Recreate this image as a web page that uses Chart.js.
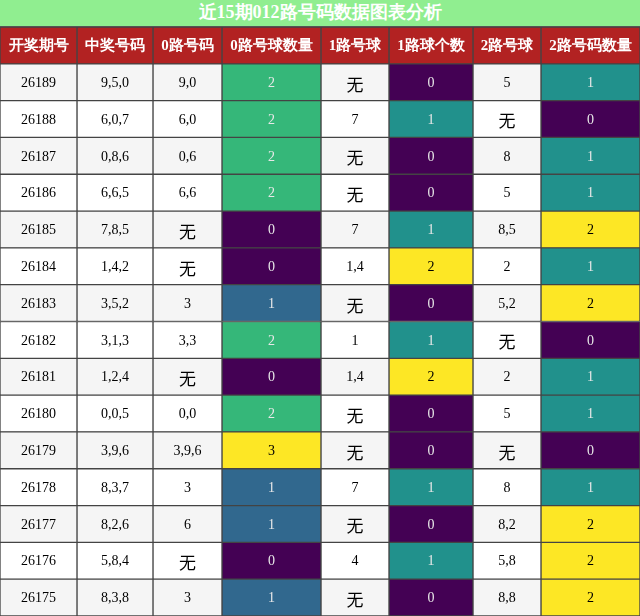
<!DOCTYPE html>
<html><head><meta charset="utf-8">
<script src="https://cdn.jsdelivr.net/npm/chart.js@4/dist/chart.umd.min.js"></script>
<style>
body{margin:0;background:#fff;}
#title{height:26px;line-height:26px;background:#90ee90;color:#fff;text-align:center;font:bold 18px "Liberation Serif","DejaVu Serif",serif;border-bottom:1px solid #555;width:640px;}
#wrap{width:640px;height:589px;}
</style></head><body>
<div id="title">近15期012路号码数据图表分析</div>
<div id="wrap"><canvas id="c"></canvas></div>
<script>
const headers=["开奖期号","中奖号码","0路号码","0路号球数量","1路号球","1路球个数","2路号球","2路号码数量"];
const periods=["26189","26188","26187","26186","26185","26184","26183","26182","26181","26180","26179","26178","26177","26176","26175"];
const draws=["9,5,0","6,0,7","0,8,6","6,6,5","7,8,5","1,4,2","3,5,2","3,1,3","1,2,4","0,0,5","3,9,6","8,3,7","8,2,6","5,8,4","8,3,8"];
const route0=["9,0","6,0","0,6","6,6","无","无","3","3,3","无","0,0","3,9,6","3","6","无","3"];
const count0=[2,2,2,2,0,0,1,2,0,2,3,1,1,0,1];
const route1=["无","7","无","无","7","1,4","无","1","1,4","无","无","7","无","4","无"];
const count1=[0,1,0,0,1,2,0,1,2,0,0,1,0,1,0];
const route2=["5","无","8","5","8,5","2","5,2","无","2","5","无","8","8,2","5,8","8,8"];
const count2=[1,0,1,1,2,1,2,0,1,1,0,1,2,2,2];

const colEdges=[0,77,153,222,321,389,473,541,640];
const columns=[periods,draws,route0,count0,route1,count1,route2,count2];
const isCount=[false,false,false,true,false,true,false,true];
const rowsLabels=['h',...periods];
function heat(v,max){
  if(max===3) return ['#440154','#31688e','#35b779','#fde725'][v];
  return ['#440154','#21918c','#fde725'][v];
}
const datasets=columns.map((col,ci)=>{
  const max=Math.max(...(isCount[ci]?col:[0]));
  return {
    data:rowsLabels.map(()=>[colEdges[ci],colEdges[ci+1]]),
    texts:[headers[ci],...col.map(String)],
    backgroundColor:rowsLabels.map((r,ri)=>{
      if(ri===0) return '#b22222';
      if(isCount[ci]) return heat(col[ri-1],max);
      return ri%2===1?'#f5f5f5':'#ffffff';
    }),
    textColors:rowsLabels.map((r,ri)=>{
      if(ri===0) return '#fff';
      if(isCount[ci]) return col[ri-1]===max?'#000':'#e8e8e8';
      return '#000';
    }),
    borderColor:'#444',borderWidth:1,borderSkipped:false,
    grouped:false,barPercentage:1,categoryPercentage:1
  };
});
const textPlugin={id:'txt',afterDatasetsDraw(chart){
  const ctx=chart.ctx;ctx.save();ctx.textAlign='center';ctx.textBaseline='middle';
  chart.data.datasets.forEach((ds,di)=>{
    chart.getDatasetMeta(di).data.forEach((el,i)=>{
      const t=ds.texts[i];
      const cx=(el.x+el.base)/2, cy=el.y;
      if(i===0) ctx.font='bold 15px "Liberation Serif","DejaVu Serif",serif';
      else if(t==='无') ctx.font='17px "Noto Sans CJK SC",serif';
      else ctx.font='14px "Liberation Serif","DejaVu Serif",serif';
      ctx.fillStyle=ds.textColors[i];
      ctx.fillText(t,cx,cy+(t==='无'?2:1));
    });
  });
  ctx.restore();
}};
new Chart(document.getElementById('c'),{
  type:'bar',
  data:{labels:rowsLabels,datasets},
  options:{indexAxis:'y',responsive:true,maintainAspectRatio:false,animation:false,
    layout:{padding:0},
    plugins:{legend:{display:false},tooltip:{enabled:false},title:{display:false}},
    scales:{x:{type:'linear',min:0,max:640,display:false},y:{display:false}}},
  plugins:[textPlugin]
});
</script></body></html>
